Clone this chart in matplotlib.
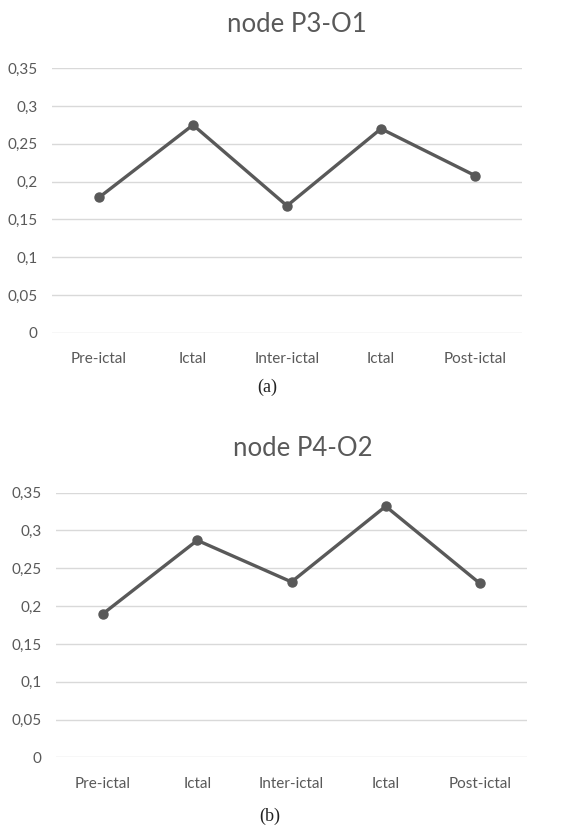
import matplotlib
matplotlib.use("Agg")
import matplotlib.pyplot as plt

categories = ["Pre-ictal", "Ictal", "Inter-ictal", "Ictal", "Post-ictal"]
p3_o1 = [0.179, 0.275, 0.168, 0.270, 0.208]
p4_o2 = [0.190, 0.287, 0.232, 0.332, 0.230]
yticks = [0, 0.05, 0.1, 0.15, 0.2, 0.25, 0.3, 0.35]
ytick_labels = ["0", "0,05", "0,1", "0,15", "0,2", "0,25", "0,3", "0,35"]
titles = ["node P3-O1", "node P4-O2"]
captions = ["(a)", "(b)"]

W, H = 577, 827
fig = plt.figure(figsize=(W / 100, H / 100), dpi=100)
fig.patch.set_facecolor("white")

SANS = ["Lato", "DejaVu Sans"]
TXT = "#595959"
LINE = "#595959"

def px_rect(x0, y_top, x1, y_bot):
    return [x0 / W, 1 - y_bot / H, (x1 - x0) / W, (y_bot - y_top) / H]

panels = [
    dict(rect=px_rect(52, 68.3, 522, 332.7), data=p3_o1, title_x=296.5, title_y=32,
         cap_y=387, cap_x=267),
    dict(rect=px_rect(56, 492.7, 527, 757.3), data=p4_o2, title_x=302.5, title_y=456.5,
         cap_y=816, cap_x=270),
]

for i, p in enumerate(panels):
    ax = fig.add_axes(p["rect"])
    x = list(range(len(categories)))
    ax.plot(x, p["data"], color=LINE, lw=2.4, marker="o", ms=6.5,
            markerfacecolor=LINE, markeredgecolor=LINE, zorder=3,
            solid_capstyle="round")
    ax.set_xlim(-0.5, len(categories) - 0.5)
    ax.set_ylim(0, 0.35)
    ax.set_yticks(yticks)
    ax.set_yticklabels(ytick_labels, family=SANS, fontsize=11, color=TXT)
    ax.set_xticks(x)
    ax.set_xticklabels(categories, family=SANS, fontsize=11, color=TXT)
    ax.tick_params(axis="both", length=0)
    ax.tick_params(axis="y", pad=10.5)
    ax.tick_params(axis="x", pad=14)
    ax.grid(axis="y", color="#d9d9d9", lw=1.0)
    ax.set_axisbelow(True)
    for s in ax.spines.values():
        s.set_visible(False)
    fig.text(p["title_x"] / W, 1 - p["title_y"] / H, titles[i], family=SANS, fontsize=18.5,
             color=TXT, ha="center", va="baseline")
    fig.text(p["cap_x"] / W, 1 - p["cap_y"] / H, captions[i],
             family=["Liberation Serif", "DejaVu Serif"], fontsize=13,
             color="#222222", ha="center", va="center")

fig.savefig("out.png", dpi=100)
